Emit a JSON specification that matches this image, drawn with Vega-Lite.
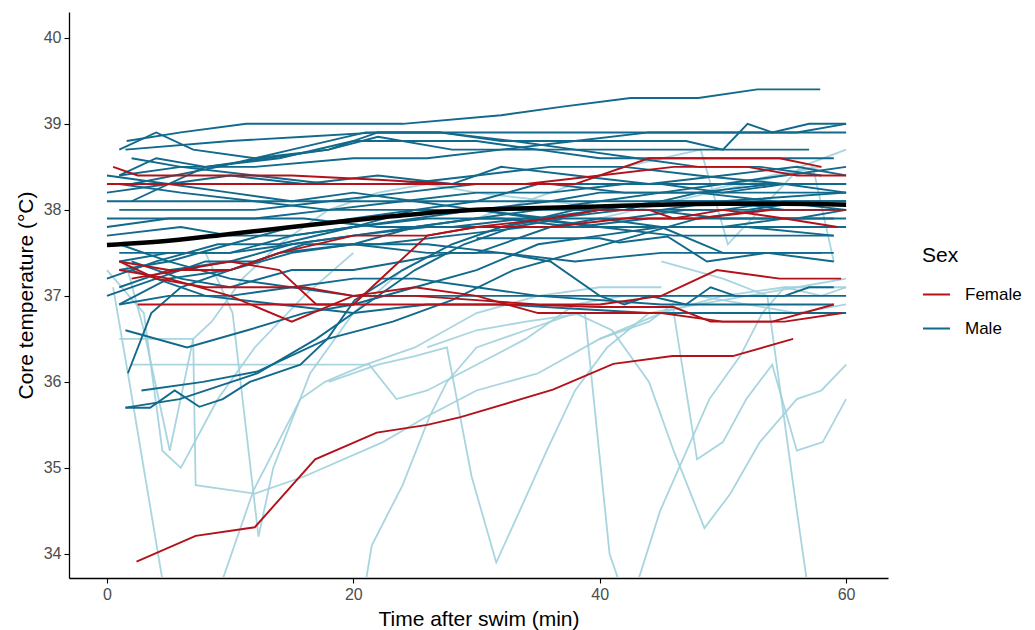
{
"$schema":"https://vega.github.io/schema/vega-lite/v6.json",
"width":819,"height":566,
"autosize":"none",
"padding":{"left":69,"top":12,"right":147,"bottom":52},
"background":"white",
"datasets":{
"mean":[{"min":0,"temp":37.59},{"min":5,"temp":37.64},{"min":10,"temp":37.72},{"min":15,"temp":37.80},{"min":20,"temp":37.88},{"min":25,"temp":37.95},{"min":30,"temp":38.0},{"min":35,"temp":38.02},{"min":40,"temp":38.04},{"min":45,"temp":38.06},{"min":50,"temp":38.07},{"min":55,"temp":38.07},{"min":60,"temp":38.06}],
"obs":[
{"id":"L1","sex":"Excluded","min":18,"temp":36.0},{"id":"L1","sex":"Excluded","min":22,"temp":36.2},{"id":"L1","sex":"Excluded","min":25,"temp":36.3},{"id":"L1","sex":"Excluded","min":27.6,"temp":36.4},{"id":"L1","sex":"Excluded","min":29.6,"temp":34.9},{"id":"L1","sex":"Excluded","min":31.6,"temp":33.9},{"id":"L1","sex":"Excluded","min":33.5,"temp":34.5},{"id":"L1","sex":"Excluded","min":35.7,"temp":35.2},{"id":"L1","sex":"Excluded","min":38,"temp":35.9},{"id":"L1","sex":"Excluded","min":40.6,"temp":36.4},{"id":"L1","sex":"Excluded","min":44,"temp":36.8},{"id":"L1","sex":"Excluded","min":48,"temp":36.9},{"id":"L1","sex":"Excluded","min":52,"temp":37.0},{"id":"L1","sex":"Excluded","min":56,"temp":37.1},{"id":"L1","sex":"Excluded","min":60,"temp":37.2},
{"id":"L2","sex":"Excluded","min":38,"temp":36.8},{"id":"L2","sex":"Excluded","min":41,"temp":36.6},{"id":"L2","sex":"Excluded","min":44,"temp":36.0},{"id":"L2","sex":"Excluded","min":46,"temp":35.2},{"id":"L2","sex":"Excluded","min":48.5,"temp":34.3},{"id":"L2","sex":"Excluded","min":50.6,"temp":34.7},{"id":"L2","sex":"Excluded","min":53,"temp":35.3},{"id":"L2","sex":"Excluded","min":56,"temp":35.8},{"id":"L2","sex":"Excluded","min":58,"temp":35.9},{"id":"L2","sex":"Excluded","min":60,"temp":36.2},
{"id":"L3","sex":"Excluded","min":26,"temp":36.4},{"id":"L3","sex":"Excluded","min":30,"temp":36.6},{"id":"L3","sex":"Excluded","min":34,"temp":36.7},{"id":"L3","sex":"Excluded","min":38.8,"temp":36.8},{"id":"L3","sex":"Excluded","min":40.8,"temp":34.0},{"id":"L3","sex":"Excluded","min":42,"temp":33.5},
{"id":"L4","sex":"Excluded","min":40,"temp":36.5},{"id":"L4","sex":"Excluded","min":44,"temp":36.7},{"id":"L4","sex":"Excluded","min":45.9,"temp":36.9},{"id":"L4","sex":"Excluded","min":47.9,"temp":35.1},{"id":"L4","sex":"Excluded","min":50,"temp":35.3},{"id":"L4","sex":"Excluded","min":51.9,"temp":35.8},{"id":"L4","sex":"Excluded","min":54,"temp":36.2},{"id":"L4","sex":"Excluded","min":56,"temp":35.2},{"id":"L4","sex":"Excluded","min":58.1,"temp":35.3},{"id":"L4","sex":"Excluded","min":60,"temp":35.8},
{"id":"L5","sex":"Excluded","min":42.7,"temp":33.5},{"id":"L5","sex":"Excluded","min":44.9,"temp":34.5},{"id":"L5","sex":"Excluded","min":48.9,"temp":35.8},{"id":"L5","sex":"Excluded","min":51.4,"temp":36.3},{"id":"L5","sex":"Excluded","min":53.2,"temp":36.8},{"id":"L5","sex":"Excluded","min":55,"temp":37.1},{"id":"L5","sex":"Excluded","min":58,"temp":37.0},{"id":"L5","sex":"Excluded","min":60,"temp":37.1},
{"id":"L6","sex":"Excluded","min":45,"temp":37.4},{"id":"L6","sex":"Excluded","min":50,"temp":37.2},{"id":"L6","sex":"Excluded","min":53.6,"temp":37.0},{"id":"L6","sex":"Excluded","min":56,"temp":34.5},{"id":"L6","sex":"Excluded","min":57,"temp":33.5},
{"id":"L7","sex":"Excluded","min":0.5,"temp":37.1},{"id":"L7","sex":"Excluded","min":1.7,"temp":36.1},{"id":"L7","sex":"Excluded","min":4.5,"temp":33.7},{"id":"L7","sex":"Excluded","min":4.8,"temp":33.4},
{"id":"L8","sex":"Excluded","min":1.5,"temp":37.4},{"id":"L8","sex":"Excluded","min":3,"temp":36.6},{"id":"L8","sex":"Excluded","min":5.1,"temp":35.2},{"id":"L8","sex":"Excluded","min":7,"temp":36.5},{"id":"L8","sex":"Excluded","min":8.5,"temp":36.7},{"id":"L8","sex":"Excluded","min":11,"temp":37.2},{"id":"L8","sex":"Excluded","min":14,"temp":37.6},{"id":"L8","sex":"Excluded","min":18,"temp":38.0},{"id":"L8","sex":"Excluded","min":22,"temp":38.2},{"id":"L8","sex":"Excluded","min":26,"temp":38.3},{"id":"L8","sex":"Excluded","min":30,"temp":38.2},{"id":"L8","sex":"Excluded","min":36,"temp":38.1},{"id":"L8","sex":"Excluded","min":42,"temp":38.0},{"id":"L8","sex":"Excluded","min":48,"temp":38.2},{"id":"L8","sex":"Excluded","min":54,"temp":38.4},{"id":"L8","sex":"Excluded","min":58,"temp":38.5},
{"id":"L9","sex":"Excluded","min":1,"temp":36.5},{"id":"L9","sex":"Excluded","min":4,"temp":36.5},{"id":"L9","sex":"Excluded","min":7,"temp":36.5},{"id":"L9","sex":"Excluded","min":7.2,"temp":34.8},{"id":"L9","sex":"Excluded","min":12,"temp":34.7},{"id":"L9","sex":"Excluded","min":16,"temp":34.9},{"id":"L9","sex":"Excluded","min":22.4,"temp":35.3},{"id":"L9","sex":"Excluded","min":26,"temp":35.6},{"id":"L9","sex":"Excluded","min":30,"temp":35.9},{"id":"L9","sex":"Excluded","min":35,"temp":36.1},{"id":"L9","sex":"Excluded","min":40,"temp":36.5},{"id":"L9","sex":"Excluded","min":45,"temp":36.8},{"id":"L9","sex":"Excluded","min":50,"temp":37.0},{"id":"L9","sex":"Excluded","min":55,"temp":37.1},{"id":"L9","sex":"Excluded","min":60,"temp":37.1},
{"id":"L10","sex":"Excluded","min":8,"temp":37.5},{"id":"L10","sex":"Excluded","min":10.2,"temp":36.8},{"id":"L10","sex":"Excluded","min":12.3,"temp":34.2},{"id":"L10","sex":"Excluded","min":13.5,"temp":35.0},{"id":"L10","sex":"Excluded","min":16.5,"temp":36.1},{"id":"L10","sex":"Excluded","min":20,"temp":36.8},{"id":"L10","sex":"Excluded","min":24,"temp":37.3},{"id":"L10","sex":"Excluded","min":28,"temp":37.6},{"id":"L10","sex":"Excluded","min":32,"temp":37.8},{"id":"L10","sex":"Excluded","min":36,"temp":37.9},
{"id":"L11","sex":"Excluded","min":8.9,"temp":33.5},{"id":"L11","sex":"Excluded","min":11.9,"temp":34.74},{"id":"L11","sex":"Excluded","min":15.7,"temp":35.8},{"id":"L11","sex":"Excluded","min":17.7,"temp":36.0},{"id":"L11","sex":"Excluded","min":21,"temp":36.2},{"id":"L11","sex":"Excluded","min":25,"temp":36.4},{"id":"L11","sex":"Excluded","min":30,"temp":36.8},{"id":"L11","sex":"Excluded","min":35,"temp":37.0},{"id":"L11","sex":"Excluded","min":40,"temp":37.1},{"id":"L11","sex":"Excluded","min":45,"temp":37.1},
{"id":"L12","sex":"Excluded","min":20.8,"temp":33.5},{"id":"L12","sex":"Excluded","min":21.5,"temp":34.1},{"id":"L12","sex":"Excluded","min":24,"temp":34.8},{"id":"L12","sex":"Excluded","min":26.2,"temp":35.6},{"id":"L12","sex":"Excluded","min":27.6,"temp":36.0},{"id":"L12","sex":"Excluded","min":30,"temp":36.4},{"id":"L12","sex":"Excluded","min":34,"temp":36.6},{"id":"L12","sex":"Excluded","min":38,"temp":36.8},
{"id":"L13","sex":"Excluded","min":2,"temp":36.2},{"id":"L13","sex":"Excluded","min":8,"temp":36.2},{"id":"L13","sex":"Excluded","min":14,"temp":36.2},{"id":"L13","sex":"Excluded","min":21.3,"temp":36.2},{"id":"L13","sex":"Excluded","min":23.5,"temp":35.8},{"id":"L13","sex":"Excluded","min":26,"temp":35.9},{"id":"L13","sex":"Excluded","min":30,"temp":36.2},{"id":"L13","sex":"Excluded","min":34,"temp":36.5},{"id":"L13","sex":"Excluded","min":38,"temp":36.9},{"id":"L13","sex":"Excluded","min":42,"temp":37.0},{"id":"L13","sex":"Excluded","min":48,"temp":37.0},{"id":"L13","sex":"Excluded","min":56,"temp":36.8},{"id":"L13","sex":"Excluded","min":60,"temp":36.9},
{"id":"L14","sex":"Excluded","min":0,"temp":37.3},{"id":"L14","sex":"Excluded","min":3,"temp":36.8},{"id":"L14","sex":"Excluded","min":4.5,"temp":35.2},{"id":"L14","sex":"Excluded","min":6,"temp":35.0},{"id":"L14","sex":"Excluded","min":9,"temp":35.8},{"id":"L14","sex":"Excluded","min":12,"temp":36.4},{"id":"L14","sex":"Excluded","min":16,"temp":37.0},{"id":"L14","sex":"Excluded","min":20,"temp":37.5},
{"id":"L16","sex":"Excluded","min":30,"temp":37.9},{"id":"L16","sex":"Excluded","min":36,"temp":38.2},{"id":"L16","sex":"Excluded","min":42,"temp":38.5},{"id":"L16","sex":"Excluded","min":48.2,"temp":38.7},{"id":"L16","sex":"Excluded","min":50.4,"temp":37.6},{"id":"L16","sex":"Excluded","min":56.3,"temp":38.5},{"id":"L16","sex":"Excluded","min":60,"temp":38.7},
{"id":"L17","sex":"Excluded","min":40,"temp":37.9},{"id":"L17","sex":"Excluded","min":46,"temp":38.1},{"id":"L17","sex":"Excluded","min":52,"temp":38.3},{"id":"L17","sex":"Excluded","min":57.3,"temp":38.5},{"id":"L17","sex":"Excluded","min":59,"temp":37.4},
{"id":"M1","sex":"Male","min":1.6,"temp":38.8},{"id":"M1","sex":"Male","min":6,"temp":38.9},{"id":"M1","sex":"Male","min":11.3,"temp":39.0},{"id":"M1","sex":"Male","min":19,"temp":39.0},{"id":"M1","sex":"Male","min":24,"temp":39.0},{"id":"M1","sex":"Male","min":32,"temp":39.1},{"id":"M1","sex":"Male","min":37,"temp":39.2},{"id":"M1","sex":"Male","min":42.5,"temp":39.3},{"id":"M1","sex":"Male","min":48,"temp":39.3},{"id":"M1","sex":"Male","min":52.8,"temp":39.4},{"id":"M1","sex":"Male","min":57.9,"temp":39.4},
{"id":"M2","sex":"Male","min":1,"temp":38.7},{"id":"M2","sex":"Male","min":4,"temp":38.9},{"id":"M2","sex":"Male","min":7,"temp":38.7},{"id":"M2","sex":"Male","min":12,"temp":38.6},{"id":"M2","sex":"Male","min":18,"temp":38.7},{"id":"M2","sex":"Male","min":22,"temp":38.9},{"id":"M2","sex":"Male","min":27,"temp":38.9},{"id":"M2","sex":"Male","min":32,"temp":38.8},{"id":"M2","sex":"Male","min":38,"temp":38.8},{"id":"M2","sex":"Male","min":44,"temp":38.9},{"id":"M2","sex":"Male","min":50,"temp":38.9},{"id":"M2","sex":"Male","min":56,"temp":38.9},{"id":"M2","sex":"Male","min":60,"temp":39.0},
{"id":"M3","sex":"Male","min":1.5,"temp":38.7},{"id":"M3","sex":"Male","min":10,"temp":38.8},{"id":"M3","sex":"Male","min":16,"temp":38.85},{"id":"M3","sex":"Male","min":22,"temp":38.9},{"id":"M3","sex":"Male","min":30,"temp":38.9},{"id":"M3","sex":"Male","min":40,"temp":38.9},{"id":"M3","sex":"Male","min":50,"temp":38.9},{"id":"M3","sex":"Male","min":60,"temp":38.9},
{"id":"M4","sex":"Male","min":1,"temp":38.4},{"id":"M4","sex":"Male","min":4,"temp":38.6},{"id":"M4","sex":"Male","min":8,"temp":38.5},{"id":"M4","sex":"Male","min":13,"temp":38.6},{"id":"M4","sex":"Male","min":18,"temp":38.7},{"id":"M4","sex":"Male","min":22,"temp":38.85},{"id":"M4","sex":"Male","min":28,"temp":38.7},{"id":"M4","sex":"Male","min":32,"temp":38.7},{"id":"M4","sex":"Male","min":38,"temp":38.8},{"id":"M4","sex":"Male","min":42,"temp":38.8},{"id":"M4","sex":"Male","min":47,"temp":38.8},{"id":"M4","sex":"Male","min":50,"temp":38.7},{"id":"M4","sex":"Male","min":52,"temp":39.0},{"id":"M4","sex":"Male","min":54,"temp":38.9},{"id":"M4","sex":"Male","min":57,"temp":39.0},{"id":"M4","sex":"Male","min":60,"temp":39.0},
{"id":"M5","sex":"Male","min":2,"temp":38.1},{"id":"M5","sex":"Male","min":8,"temp":38.5},{"id":"M5","sex":"Male","min":14,"temp":38.6},{"id":"M5","sex":"Male","min":20,"temp":38.8},{"id":"M5","sex":"Male","min":25,"temp":38.8},{"id":"M5","sex":"Male","min":30,"temp":38.8},{"id":"M5","sex":"Male","min":35,"temp":38.7},{"id":"M5","sex":"Male","min":40,"temp":38.6},{"id":"M5","sex":"Male","min":45,"temp":38.6},{"id":"M5","sex":"Male","min":50,"temp":38.6},{"id":"M5","sex":"Male","min":55,"temp":38.6},{"id":"M5","sex":"Male","min":59,"temp":38.6},
{"id":"M6","sex":"Male","min":1,"temp":38.4},{"id":"M6","sex":"Male","min":6,"temp":38.5},{"id":"M6","sex":"Male","min":12,"temp":38.5},{"id":"M6","sex":"Male","min":20,"temp":38.6},{"id":"M6","sex":"Male","min":26,"temp":38.6},{"id":"M6","sex":"Male","min":32,"temp":38.7},{"id":"M6","sex":"Male","min":38,"temp":38.7},{"id":"M6","sex":"Male","min":44,"temp":38.7},{"id":"M6","sex":"Male","min":50,"temp":38.7},{"id":"M6","sex":"Male","min":57,"temp":38.7},
{"id":"M7","sex":"Male","min":2,"temp":38.3},{"id":"M7","sex":"Male","min":9,"temp":38.5},{"id":"M7","sex":"Male","min":15,"temp":38.7},{"id":"M7","sex":"Male","min":21,"temp":38.9},{"id":"M7","sex":"Male","min":27,"temp":38.9},{"id":"M7","sex":"Male","min":33,"temp":38.8},{"id":"M7","sex":"Male","min":38,"temp":38.7},{"id":"M7","sex":"Male","min":43,"temp":38.6},{"id":"M7","sex":"Male","min":48,"temp":38.5},{"id":"M7","sex":"Male","min":53,"temp":38.5},{"id":"M7","sex":"Male","min":58,"temp":38.4},
{"id":"M8","sex":"Male","min":0,"temp":38.2},{"id":"M8","sex":"Male","min":5,"temp":38.3},{"id":"M8","sex":"Male","min":10,"temp":38.4},{"id":"M8","sex":"Male","min":16,"temp":38.3},{"id":"M8","sex":"Male","min":22,"temp":38.4},{"id":"M8","sex":"Male","min":28,"temp":38.3},{"id":"M8","sex":"Male","min":32,"temp":38.5},{"id":"M8","sex":"Male","min":38,"temp":38.4},{"id":"M8","sex":"Male","min":44,"temp":38.3},{"id":"M8","sex":"Male","min":50,"temp":38.4},{"id":"M8","sex":"Male","min":56,"temp":38.5},{"id":"M8","sex":"Male","min":60,"temp":38.4},
{"id":"M9","sex":"Male","min":0,"temp":38.1},{"id":"M9","sex":"Male","min":10,"temp":38.1},{"id":"M9","sex":"Male","min":20,"temp":38.1},{"id":"M9","sex":"Male","min":30,"temp":38.1},{"id":"M9","sex":"Male","min":40,"temp":38.1},{"id":"M9","sex":"Male","min":50,"temp":38.1},{"id":"M9","sex":"Male","min":60,"temp":38.2},
{"id":"M10","sex":"Male","min":1,"temp":38.0},{"id":"M10","sex":"Male","min":6,"temp":38.0},{"id":"M10","sex":"Male","min":12,"temp":38.0},{"id":"M10","sex":"Male","min":18,"temp":38.1},{"id":"M10","sex":"Male","min":24,"temp":38.2},{"id":"M10","sex":"Male","min":30,"temp":38.3},{"id":"M10","sex":"Male","min":36,"temp":38.3},{"id":"M10","sex":"Male","min":42,"temp":38.2},{"id":"M10","sex":"Male","min":48,"temp":38.2},{"id":"M10","sex":"Male","min":54,"temp":38.3},{"id":"M10","sex":"Male","min":60,"temp":38.3},
{"id":"M11","sex":"Male","min":0,"temp":37.8},{"id":"M11","sex":"Male","min":5,"temp":37.9},{"id":"M11","sex":"Male","min":10,"temp":37.9},{"id":"M11","sex":"Male","min":16,"temp":37.9},{"id":"M11","sex":"Male","min":22,"temp":37.8},{"id":"M11","sex":"Male","min":28,"temp":37.8},{"id":"M11","sex":"Male","min":34,"temp":37.9},{"id":"M11","sex":"Male","min":40,"temp":37.8},{"id":"M11","sex":"Male","min":46,"temp":37.8},{"id":"M11","sex":"Male","min":52,"temp":37.8},{"id":"M11","sex":"Male","min":59,"temp":37.7},
{"id":"M12","sex":"Male","min":0,"temp":37.7},{"id":"M12","sex":"Male","min":6,"temp":37.8},{"id":"M12","sex":"Male","min":10,"temp":37.7},{"id":"M12","sex":"Male","min":15,"temp":37.7},{"id":"M12","sex":"Male","min":20,"temp":37.8},{"id":"M12","sex":"Male","min":25,"temp":38.0},{"id":"M12","sex":"Male","min":30,"temp":38.0},{"id":"M12","sex":"Male","min":36,"temp":38.1},{"id":"M12","sex":"Male","min":40,"temp":38.2},{"id":"M12","sex":"Male","min":46,"temp":38.2},{"id":"M12","sex":"Male","min":52,"temp":38.2},{"id":"M12","sex":"Male","min":60,"temp":38.2},
{"id":"M13","sex":"Male","min":1,"temp":37.5},{"id":"M13","sex":"Male","min":5,"temp":37.5},{"id":"M13","sex":"Male","min":10,"temp":37.5},{"id":"M13","sex":"Male","min":15,"temp":37.7},{"id":"M13","sex":"Male","min":20,"temp":37.8},{"id":"M13","sex":"Male","min":25,"temp":37.9},{"id":"M13","sex":"Male","min":30,"temp":38.0},{"id":"M13","sex":"Male","min":35,"temp":37.9},{"id":"M13","sex":"Male","min":40,"temp":38.0},{"id":"M13","sex":"Male","min":45,"temp":38.0},{"id":"M13","sex":"Male","min":50,"temp":38.0},{"id":"M13","sex":"Male","min":55,"temp":38.1},{"id":"M13","sex":"Male","min":60,"temp":38.1},
{"id":"M14","sex":"Male","min":1,"temp":37.3},{"id":"M14","sex":"Male","min":5,"temp":37.4},{"id":"M14","sex":"Male","min":10,"temp":37.6},{"id":"M14","sex":"Male","min":15,"temp":37.8},{"id":"M14","sex":"Male","min":20,"temp":37.9},{"id":"M14","sex":"Male","min":25,"temp":38.0},{"id":"M14","sex":"Male","min":30,"temp":38.1},{"id":"M14","sex":"Male","min":35,"temp":38.3},{"id":"M14","sex":"Male","min":40,"temp":38.3},{"id":"M14","sex":"Male","min":45,"temp":38.3},{"id":"M14","sex":"Male","min":50,"temp":38.2},{"id":"M14","sex":"Male","min":55,"temp":38.3},{"id":"M14","sex":"Male","min":60,"temp":38.2},
{"id":"M15","sex":"Male","min":0,"temp":37.2},{"id":"M15","sex":"Male","min":4,"temp":37.4},{"id":"M15","sex":"Male","min":9,"temp":37.6},{"id":"M15","sex":"Male","min":14,"temp":37.6},{"id":"M15","sex":"Male","min":20,"temp":37.8},{"id":"M15","sex":"Male","min":26,"temp":37.9},{"id":"M15","sex":"Male","min":32,"temp":37.9},{"id":"M15","sex":"Male","min":38,"temp":37.8},{"id":"M15","sex":"Male","min":44,"temp":37.9},{"id":"M15","sex":"Male","min":50,"temp":37.9},{"id":"M15","sex":"Male","min":56,"temp":37.9},{"id":"M15","sex":"Male","min":60,"temp":37.9},
{"id":"M16","sex":"Male","min":1,"temp":37.1},{"id":"M16","sex":"Male","min":5,"temp":37.3},{"id":"M16","sex":"Male","min":10,"temp":37.4},{"id":"M16","sex":"Male","min":15,"temp":37.6},{"id":"M16","sex":"Male","min":20,"temp":37.7},{"id":"M16","sex":"Male","min":25,"temp":37.8},{"id":"M16","sex":"Male","min":30,"temp":37.9},{"id":"M16","sex":"Male","min":35,"temp":37.9},{"id":"M16","sex":"Male","min":40,"temp":37.8},{"id":"M16","sex":"Male","min":45,"temp":37.8},{"id":"M16","sex":"Male","min":50,"temp":37.8},{"id":"M16","sex":"Male","min":55,"temp":37.8},{"id":"M16","sex":"Male","min":60,"temp":37.8},
{"id":"M17","sex":"Male","min":0,"temp":37.0},{"id":"M17","sex":"Male","min":4,"temp":37.2},{"id":"M17","sex":"Male","min":8,"temp":37.4},{"id":"M17","sex":"Male","min":12,"temp":37.4},{"id":"M17","sex":"Male","min":16,"temp":37.6},{"id":"M17","sex":"Male","min":22,"temp":37.6},{"id":"M17","sex":"Male","min":28,"temp":37.7},{"id":"M17","sex":"Male","min":34,"temp":37.8},{"id":"M17","sex":"Male","min":40,"temp":37.8},{"id":"M17","sex":"Male","min":46,"temp":37.7},{"id":"M17","sex":"Male","min":52,"temp":37.7},{"id":"M17","sex":"Male","min":59,"temp":37.7},
{"id":"M18","sex":"Male","min":1,"temp":36.9},{"id":"M18","sex":"Male","min":5,"temp":37.2},{"id":"M18","sex":"Male","min":10,"temp":37.3},{"id":"M18","sex":"Male","min":14,"temp":37.5},{"id":"M18","sex":"Male","min":20,"temp":37.6},{"id":"M18","sex":"Male","min":26,"temp":37.5},{"id":"M18","sex":"Male","min":30,"temp":37.5},{"id":"M18","sex":"Male","min":36,"temp":37.8},{"id":"M18","sex":"Male","min":40,"temp":37.9},{"id":"M18","sex":"Male","min":45,"temp":37.8},{"id":"M18","sex":"Male","min":50,"temp":37.5},{"id":"M18","sex":"Male","min":56,"temp":37.5},{"id":"M18","sex":"Male","min":59,"temp":37.5},
{"id":"M19","sex":"Male","min":2,"temp":37.4},{"id":"M19","sex":"Male","min":6,"temp":37.2},{"id":"M19","sex":"Male","min":10,"temp":37.1},{"id":"M19","sex":"Male","min":15,"temp":37.3},{"id":"M19","sex":"Male","min":20,"temp":37.3},{"id":"M19","sex":"Male","min":24,"temp":37.4},{"id":"M19","sex":"Male","min":28,"temp":37.5},{"id":"M19","sex":"Male","min":32,"temp":37.5},{"id":"M19","sex":"Male","min":36,"temp":37.4},{"id":"M19","sex":"Male","min":40,"temp":37.0},{"id":"M19","sex":"Male","min":44,"temp":37.0},{"id":"M19","sex":"Male","min":48,"temp":37.0},{"id":"M19","sex":"Male","min":52,"temp":37.0},{"id":"M19","sex":"Male","min":56,"temp":37.0},{"id":"M19","sex":"Male","min":60,"temp":37.0},
{"id":"M20","sex":"Male","min":20,"temp":37.6},{"id":"M20","sex":"Male","min":26,"temp":37.6},{"id":"M20","sex":"Male","min":32,"temp":37.5},{"id":"M20","sex":"Male","min":38,"temp":37.4},{"id":"M20","sex":"Male","min":40,"temp":37.43},{"id":"M20","sex":"Male","min":45,"temp":37.5},{"id":"M20","sex":"Male","min":50,"temp":37.5},{"id":"M20","sex":"Male","min":55,"temp":37.5},{"id":"M20","sex":"Male","min":58,"temp":37.5},
{"id":"M21","sex":"Male","min":30,"temp":37.67},{"id":"M21","sex":"Male","min":40,"temp":37.67},{"id":"M21","sex":"Male","min":41.6,"temp":37.62},{"id":"M21","sex":"Male","min":45.5,"temp":37.69},{"id":"M21","sex":"Male","min":48.7,"temp":37.4},{"id":"M21","sex":"Male","min":53.6,"temp":37.5},{"id":"M21","sex":"Male","min":59,"temp":37.4},
{"id":"M22","sex":"Male","min":1,"temp":36.9},{"id":"M22","sex":"Male","min":5,"temp":37.0},{"id":"M22","sex":"Male","min":10,"temp":37.0},{"id":"M22","sex":"Male","min":15,"temp":37.1},{"id":"M22","sex":"Male","min":20,"temp":37.2},{"id":"M22","sex":"Male","min":25,"temp":37.2},{"id":"M22","sex":"Male","min":30,"temp":37.1},{"id":"M22","sex":"Male","min":35,"temp":37.0},{"id":"M22","sex":"Male","min":40,"temp":37.0},{"id":"M22","sex":"Male","min":42,"temp":36.9},{"id":"M22","sex":"Male","min":44,"temp":37.0},{"id":"M22","sex":"Male","min":47,"temp":36.9},{"id":"M22","sex":"Male","min":49,"temp":37.1},{"id":"M22","sex":"Male","min":51,"temp":37.0},{"id":"M22","sex":"Male","min":55,"temp":37.0},{"id":"M22","sex":"Male","min":57,"temp":37.1},{"id":"M22","sex":"Male","min":59,"temp":37.1},
{"id":"M23","sex":"Male","min":1.5,"temp":36.6},{"id":"M23","sex":"Male","min":6.5,"temp":36.4},{"id":"M23","sex":"Male","min":11.4,"temp":36.6},{"id":"M23","sex":"Male","min":16,"temp":36.8},{"id":"M23","sex":"Male","min":20,"temp":36.9},{"id":"M23","sex":"Male","min":25,"temp":37.1},{"id":"M23","sex":"Male","min":30,"temp":37.3},{"id":"M23","sex":"Male","min":35,"temp":37.6},{"id":"M23","sex":"Male","min":40,"temp":37.7},{"id":"M23","sex":"Male","min":45,"temp":37.8},{"id":"M23","sex":"Male","min":50,"temp":37.8},{"id":"M23","sex":"Male","min":55,"temp":37.9},{"id":"M23","sex":"Male","min":59,"temp":37.9},
{"id":"M24","sex":"Male","min":1.7,"temp":36.1},{"id":"M24","sex":"Male","min":3.6,"temp":36.8},{"id":"M24","sex":"Male","min":6,"temp":37.1},{"id":"M24","sex":"Male","min":10,"temp":37.3},{"id":"M24","sex":"Male","min":15,"temp":37.5},{"id":"M24","sex":"Male","min":20,"temp":37.6},{"id":"M24","sex":"Male","min":25,"temp":37.8},{"id":"M24","sex":"Male","min":30,"temp":37.9},{"id":"M24","sex":"Male","min":35,"temp":38.0},{"id":"M24","sex":"Male","min":40,"temp":38.0},{"id":"M24","sex":"Male","min":45,"temp":38.1},{"id":"M24","sex":"Male","min":50,"temp":38.1},{"id":"M24","sex":"Male","min":55,"temp":38.1},{"id":"M24","sex":"Male","min":60,"temp":38.1},
{"id":"M25","sex":"Male","min":2.8,"temp":35.9},{"id":"M25","sex":"Male","min":7.8,"temp":36.0},{"id":"M25","sex":"Male","min":12.2,"temp":36.12},{"id":"M25","sex":"Male","min":17.9,"temp":36.5},{"id":"M25","sex":"Male","min":23.2,"temp":36.7},{"id":"M25","sex":"Male","min":28,"temp":36.95},{"id":"M25","sex":"Male","min":33,"temp":37.3},{"id":"M25","sex":"Male","min":38,"temp":37.5},{"id":"M25","sex":"Male","min":43,"temp":37.7},{"id":"M25","sex":"Male","min":48,"temp":37.9},{"id":"M25","sex":"Male","min":53,"temp":38.0},{"id":"M25","sex":"Male","min":58,"temp":38.0},
{"id":"M26","sex":"Male","min":1.5,"temp":35.7},{"id":"M26","sex":"Male","min":3.5,"temp":35.7},{"id":"M26","sex":"Male","min":5.5,"temp":35.9},{"id":"M26","sex":"Male","min":7.5,"temp":35.71},{"id":"M26","sex":"Male","min":9.4,"temp":35.8},{"id":"M26","sex":"Male","min":11.6,"temp":36.0},{"id":"M26","sex":"Male","min":15.7,"temp":36.2},{"id":"M26","sex":"Male","min":17.9,"temp":36.5},{"id":"M26","sex":"Male","min":20.1,"temp":36.95},{"id":"M26","sex":"Male","min":24,"temp":37.3},{"id":"M26","sex":"Male","min":28,"temp":37.6},{"id":"M26","sex":"Male","min":32,"temp":37.8},{"id":"M26","sex":"Male","min":36,"temp":37.9},{"id":"M26","sex":"Male","min":40,"temp":38.0},{"id":"M26","sex":"Male","min":45,"temp":38.0},{"id":"M26","sex":"Male","min":50,"temp":38.1},{"id":"M26","sex":"Male","min":55,"temp":38.0},{"id":"M26","sex":"Male","min":60,"temp":38.0},
{"id":"M27","sex":"Male","min":1.5,"temp":35.7},{"id":"M27","sex":"Male","min":5.9,"temp":35.8},{"id":"M27","sex":"Male","min":12.2,"temp":36.1},{"id":"M27","sex":"Male","min":17,"temp":36.5},{"id":"M27","sex":"Male","min":21,"temp":36.9},{"id":"M27","sex":"Male","min":25,"temp":37.3},{"id":"M27","sex":"Male","min":29,"temp":37.6},{"id":"M27","sex":"Male","min":33,"temp":37.8},{"id":"M27","sex":"Male","min":37,"temp":37.9},{"id":"M27","sex":"Male","min":42,"temp":37.9},{"id":"M27","sex":"Male","min":47,"temp":38.0},{"id":"M27","sex":"Male","min":52,"temp":38.0},{"id":"M27","sex":"Male","min":57,"temp":38.1},
{"id":"M28","sex":"Male","min":0,"temp":38.4},{"id":"M28","sex":"Male","min":5,"temp":38.3},{"id":"M28","sex":"Male","min":10,"temp":38.2},{"id":"M28","sex":"Male","min":15,"temp":38.1},{"id":"M28","sex":"Male","min":20,"temp":38.2},{"id":"M28","sex":"Male","min":25,"temp":38.1},{"id":"M28","sex":"Male","min":30,"temp":38.0},{"id":"M28","sex":"Male","min":35,"temp":38.0},{"id":"M28","sex":"Male","min":40,"temp":38.1},{"id":"M28","sex":"Male","min":45,"temp":38.2},{"id":"M28","sex":"Male","min":50,"temp":38.3},{"id":"M28","sex":"Male","min":55,"temp":38.4},{"id":"M28","sex":"Male","min":60,"temp":38.5},
{"id":"M29","sex":"Male","min":1,"temp":38.3},{"id":"M29","sex":"Male","min":6,"temp":38.2},{"id":"M29","sex":"Male","min":12,"temp":38.1},{"id":"M29","sex":"Male","min":18,"temp":38.0},{"id":"M29","sex":"Male","min":24,"temp":38.0},{"id":"M29","sex":"Male","min":30,"temp":38.0},{"id":"M29","sex":"Male","min":36,"temp":37.9},{"id":"M29","sex":"Male","min":42,"temp":38.0},{"id":"M29","sex":"Male","min":48,"temp":38.2},{"id":"M29","sex":"Male","min":54,"temp":38.1},{"id":"M29","sex":"Male","min":60,"temp":38.0},
{"id":"M30","sex":"Male","min":1,"temp":37.6},{"id":"M30","sex":"Male","min":5,"temp":37.4},{"id":"M30","sex":"Male","min":10,"temp":37.2},{"id":"M30","sex":"Male","min":15,"temp":37.1},{"id":"M30","sex":"Male","min":20,"temp":37.0},{"id":"M30","sex":"Male","min":25,"temp":37.0},{"id":"M30","sex":"Male","min":30,"temp":37.0},{"id":"M30","sex":"Male","min":35,"temp":37.0},{"id":"M30","sex":"Male","min":40,"temp":36.95},{"id":"M30","sex":"Male","min":45,"temp":36.9},{"id":"M30","sex":"Male","min":50,"temp":36.9},{"id":"M30","sex":"Male","min":55,"temp":36.9},{"id":"M30","sex":"Male","min":59,"temp":36.9},
{"id":"M31","sex":"Male","min":2,"temp":37.3},{"id":"M31","sex":"Male","min":8,"temp":37.0},{"id":"M31","sex":"Male","min":14,"temp":36.9},{"id":"M31","sex":"Male","min":20,"temp":36.8},{"id":"M31","sex":"Male","min":26,"temp":36.9},{"id":"M31","sex":"Male","min":32,"temp":36.9},{"id":"M31","sex":"Male","min":38,"temp":36.85},{"id":"M31","sex":"Male","min":44,"temp":36.8},{"id":"M31","sex":"Male","min":50,"temp":36.8},{"id":"M31","sex":"Male","min":55,"temp":36.8},{"id":"M31","sex":"Male","min":60,"temp":36.8},
{"id":"M32","sex":"Male","min":0,"temp":37.9},{"id":"M32","sex":"Male","min":6,"temp":37.9},{"id":"M32","sex":"Male","min":12,"temp":37.9},{"id":"M32","sex":"Male","min":18,"temp":38.0},{"id":"M32","sex":"Male","min":24,"temp":38.1},{"id":"M32","sex":"Male","min":30,"temp":38.2},{"id":"M32","sex":"Male","min":36,"temp":38.2},{"id":"M32","sex":"Male","min":42,"temp":38.3},{"id":"M32","sex":"Male","min":48,"temp":38.3},{"id":"M32","sex":"Male","min":54,"temp":38.3},{"id":"M32","sex":"Male","min":60,"temp":38.3},
{"id":"M33","sex":"Male","min":2,"temp":38.6},{"id":"M33","sex":"Male","min":6,"temp":38.5},{"id":"M33","sex":"Male","min":12,"temp":38.4},{"id":"M33","sex":"Male","min":18,"temp":38.3},{"id":"M33","sex":"Male","min":24,"temp":38.3},{"id":"M33","sex":"Male","min":30,"temp":38.4},{"id":"M33","sex":"Male","min":36,"temp":38.5},{"id":"M33","sex":"Male","min":42,"temp":38.5},{"id":"M33","sex":"Male","min":48,"temp":38.4},{"id":"M33","sex":"Male","min":55,"temp":38.3},{"id":"M33","sex":"Male","min":60,"temp":38.3},
{"id":"M34","sex":"Male","min":1,"temp":37.4},{"id":"M34","sex":"Male","min":5,"temp":37.5},{"id":"M34","sex":"Male","min":10,"temp":37.5},{"id":"M34","sex":"Male","min":15,"temp":37.6},{"id":"M34","sex":"Male","min":20,"temp":37.7},{"id":"M34","sex":"Male","min":26,"temp":37.8},{"id":"M34","sex":"Male","min":32,"temp":37.8},{"id":"M34","sex":"Male","min":38,"temp":38.0},{"id":"M34","sex":"Male","min":44,"temp":38.0},{"id":"M34","sex":"Male","min":50,"temp":37.9},{"id":"M34","sex":"Male","min":56,"temp":37.9},{"id":"M34","sex":"Male","min":60,"temp":38.0},
{"id":"F1","sex":"Female","min":0.5,"temp":38.5},{"id":"F1","sex":"Female","min":2.5,"temp":38.4},{"id":"F1","sex":"Female","min":8,"temp":38.4},{"id":"F1","sex":"Female","min":15,"temp":38.4},{"id":"F1","sex":"Female","min":22,"temp":38.35},{"id":"F1","sex":"Female","min":28,"temp":38.3},{"id":"F1","sex":"Female","min":34,"temp":38.3},{"id":"F1","sex":"Female","min":40,"temp":38.4},{"id":"F1","sex":"Female","min":46,"temp":38.5},{"id":"F1","sex":"Female","min":52,"temp":38.5},{"id":"F1","sex":"Female","min":56,"temp":38.4},{"id":"F1","sex":"Female","min":60,"temp":38.4},
{"id":"F2","sex":"Female","min":0,"temp":38.3},{"id":"F2","sex":"Female","min":10,"temp":38.3},{"id":"F2","sex":"Female","min":20,"temp":38.3},{"id":"F2","sex":"Female","min":30,"temp":38.3},{"id":"F2","sex":"Female","min":38,"temp":38.3},{"id":"F2","sex":"Female","min":44,"temp":38.6},{"id":"F2","sex":"Female","min":50,"temp":38.6},{"id":"F2","sex":"Female","min":54.6,"temp":38.6},{"id":"F2","sex":"Female","min":58,"temp":38.5},
{"id":"F3","sex":"Female","min":1,"temp":37.4},{"id":"F3","sex":"Female","min":5,"temp":37.3},{"id":"F3","sex":"Female","min":10,"temp":37.3},{"id":"F3","sex":"Female","min":14,"temp":37.5},{"id":"F3","sex":"Female","min":20,"temp":37.7},{"id":"F3","sex":"Female","min":26,"temp":37.7},{"id":"F3","sex":"Female","min":30,"temp":37.8},{"id":"F3","sex":"Female","min":36,"temp":37.9},{"id":"F3","sex":"Female","min":40,"temp":38.0},{"id":"F3","sex":"Female","min":44,"temp":38.0},{"id":"F3","sex":"Female","min":46,"temp":37.9},{"id":"F3","sex":"Female","min":50,"temp":38.0},{"id":"F3","sex":"Female","min":55,"temp":37.9},{"id":"F3","sex":"Female","min":59.3,"temp":37.8},
{"id":"F4","sex":"Female","min":1,"temp":37.4},{"id":"F4","sex":"Female","min":4,"temp":37.2},{"id":"F4","sex":"Female","min":8,"temp":37.1},{"id":"F4","sex":"Female","min":12,"temp":37.1},{"id":"F4","sex":"Female","min":16,"temp":37.1},{"id":"F4","sex":"Female","min":20,"temp":37.0},{"id":"F4","sex":"Female","min":25,"temp":37.0},{"id":"F4","sex":"Female","min":30,"temp":36.95},{"id":"F4","sex":"Female","min":35,"temp":36.9},{"id":"F4","sex":"Female","min":40,"temp":36.9},{"id":"F4","sex":"Female","min":45,"temp":37.0},{"id":"F4","sex":"Female","min":49.5,"temp":37.3},{"id":"F4","sex":"Female","min":54.6,"temp":37.2},{"id":"F4","sex":"Female","min":59.6,"temp":37.2},
{"id":"F5","sex":"Female","min":2.5,"temp":36.9},{"id":"F5","sex":"Female","min":7,"temp":36.9},{"id":"F5","sex":"Female","min":12,"temp":36.9},{"id":"F5","sex":"Female","min":17,"temp":36.9},{"id":"F5","sex":"Female","min":22,"temp":36.9},{"id":"F5","sex":"Female","min":28,"temp":36.9},{"id":"F5","sex":"Female","min":34,"temp":36.9},{"id":"F5","sex":"Female","min":40,"temp":36.87},{"id":"F5","sex":"Female","min":46,"temp":36.87},{"id":"F5","sex":"Female","min":49,"temp":36.7},{"id":"F5","sex":"Female","min":54,"temp":36.7},{"id":"F5","sex":"Female","min":59,"temp":36.9},
{"id":"F6","sex":"Female","min":1,"temp":37.3},{"id":"F6","sex":"Female","min":5,"temp":37.2},{"id":"F6","sex":"Female","min":10,"temp":37.0},{"id":"F6","sex":"Female","min":15,"temp":36.7},{"id":"F6","sex":"Female","min":20,"temp":37.0},{"id":"F6","sex":"Female","min":25,"temp":37.1},{"id":"F6","sex":"Female","min":30,"temp":37.0},{"id":"F6","sex":"Female","min":35,"temp":36.8},{"id":"F6","sex":"Female","min":40,"temp":36.8},{"id":"F6","sex":"Female","min":45,"temp":36.8},{"id":"F6","sex":"Female","min":50,"temp":36.7},{"id":"F6","sex":"Female","min":55,"temp":36.7},{"id":"F6","sex":"Female","min":59.7,"temp":36.8},
{"id":"F7","sex":"Female","min":2.4,"temp":33.91},{"id":"F7","sex":"Female","min":7.2,"temp":34.21},{"id":"F7","sex":"Female","min":12,"temp":34.31},{"id":"F7","sex":"Female","min":16.9,"temp":35.1},{"id":"F7","sex":"Female","min":21.9,"temp":35.41},{"id":"F7","sex":"Female","min":26,"temp":35.5},{"id":"F7","sex":"Female","min":28.7,"temp":35.59},{"id":"F7","sex":"Female","min":36.2,"temp":35.91},{"id":"F7","sex":"Female","min":41.1,"temp":36.21},{"id":"F7","sex":"Female","min":45.9,"temp":36.3},{"id":"F7","sex":"Female","min":50.8,"temp":36.3},{"id":"F7","sex":"Female","min":55.7,"temp":36.5},
{"id":"F8","sex":"Female","min":2,"temp":37.2},{"id":"F8","sex":"Female","min":6,"temp":37.3},{"id":"F8","sex":"Female","min":10,"temp":37.4},{"id":"F8","sex":"Female","min":14,"temp":37.3},{"id":"F8","sex":"Female","min":17,"temp":36.9},{"id":"F8","sex":"Female","min":20,"temp":36.9},{"id":"F8","sex":"Female","min":23,"temp":37.3},{"id":"F8","sex":"Female","min":26,"temp":37.7},{"id":"F8","sex":"Female","min":30,"temp":37.8},{"id":"F8","sex":"Female","min":36,"temp":37.8},{"id":"F8","sex":"Female","min":42,"temp":37.9},{"id":"F8","sex":"Female","min":48,"temp":37.9},{"id":"F8","sex":"Female","min":54,"temp":38.0},{"id":"F8","sex":"Female","min":60,"temp":38.0}
]},
"layer":[
{"data":{"name":"obs"},
"transform":[{"filter":{"field":"sex","equal":"Excluded"}}],
"mark":{"type":"line","clip":true,"color":"#9fd0dc","strokeWidth":1.8,"opacity":0.9},
"encoding":{
"x":{"field":"min","type":"quantitative","scale":{"domain":[-3.08,63.4],"nice":false,"zero":false},
"axis":{"values":[0,20,40,60],"title":"Time after swim (min)","labelPadding":3,"titlePadding":6}},
"y":{"field":"temp","type":"quantitative","scale":{"domain":[33.72,40.3],"nice":false,"zero":false},
"axis":{"values":[34,35,36,37,38,39,40],"format":"d","title":"Core temperature (°C)","labelPadding":3,"titlePadding":7}},
"detail":{"field":"id"},
"order":{"field":"min","type":"quantitative"}}},
{"data":{"name":"obs"},
"transform":[{"filter":{"field":"sex","oneOf":["Female","Male"]}}],
"mark":{"type":"line","clip":true,"strokeWidth":1.9},
"encoding":{
"x":{"field":"min","type":"quantitative"},
"y":{"field":"temp","type":"quantitative"},
"detail":{"field":"id"},
"order":{"field":"min","type":"quantitative"},
"color":{"field":"sex","type":"nominal","scale":{"domain":["Female","Male"],"range":["#b3121a","#11698b"]},
"legend":{"title":"Sex","orient":"none","legendX":853,"legendY":233,"symbolType":"stroke","symbolSize":729,"symbolStrokeWidth":2,"titleFontSize":21,"titleFontWeight":"normal","titleFont":"Liberation Sans","titleColor":"black","labelFont":"Liberation Sans","labelFontSize":17,"labelColor":"black","titlePadding":14,"rowPadding":11,"labelOffset":14}}}},
{"data":{"name":"mean"},
"mark":{"type":"line","color":"black","strokeWidth":4.5,"interpolate":"monotone"},
"encoding":{"x":{"field":"min","type":"quantitative"},"y":{"field":"temp","type":"quantitative"}}}
],
"config":{"view":{"stroke":null},
"axis":{"grid":false,"domainColor":"black","domainWidth":1.3,"tickColor":"black","tickWidth":1.1,"tickSize":5,"labelColor":"#4d4d4d","labelFontSize":16,"labelFont":"Liberation Sans","titleFont":"Liberation Sans","titleFontSize":21,"titleFontWeight":"normal","titleColor":"black"}}
}
